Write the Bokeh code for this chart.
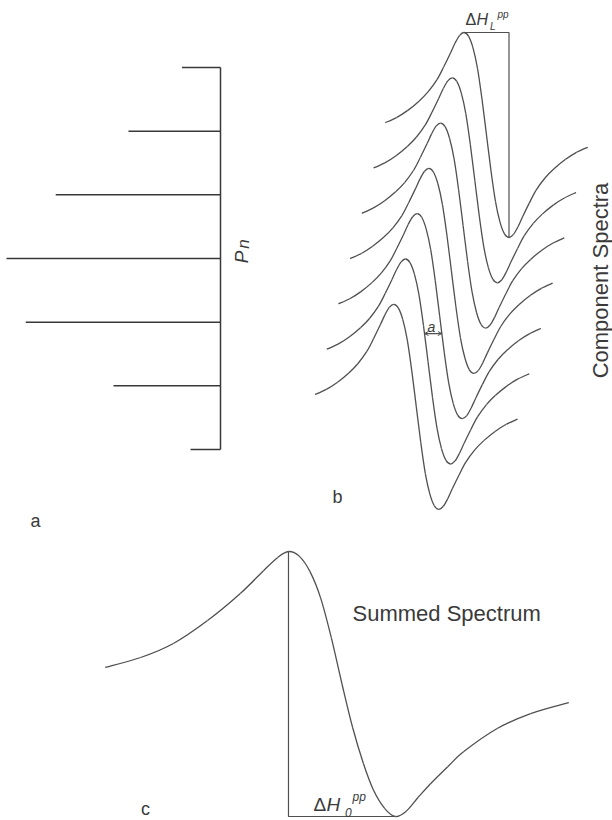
import numpy as np
from bokeh.plotting import figure
from bokeh.models import Range1d, Label, Arrow, OpenHead
from bokeh.embed import file_html
from bokeh.resources import INLINE

W, H = 612, 820

# ---------------- data ----------------
# panel a: stick distribution P_n (top to bottom)
n_index = [0, 1, 2, 3, 4, 5, 6]
p_n = [0.18, 0.43, 0.77, 1.00, 0.91, 0.50, 0.14]

# panel b: one component line shape (field in G, normalised derivative signal)
comp_field = [-22.5, -20, -17.5, -15, -13, -11, -9.5, -8, -7, -6, -5, -4, -3, -2, -1, 0,
              1, 2, 3, 4, 5, 6, 7, 8, 9.5, 11, 13, 15, 17.5, 20, 22.5]
comp_signal = [0.12, 0.17, 0.24, 0.33, 0.42, 0.54, 0.665, 0.80, 0.895, 0.97, 1.0, 0.965,
               0.85, 0.65, 0.35, 0.0, -0.35, -0.65, -0.85, -0.965, -1.0, -0.97, -0.895,
               -0.80, -0.665, -0.54, -0.42, -0.33, -0.24, -0.17, -0.12]
# position (G) and vertical stacking offset of each component, top to bottom
comp_centers = [7.8, 5.2, 2.6, 0.0, -2.6, -5.2, -7.8]
comp_offsets = [1.326, 0.884, 0.442, 0.0, -0.442, -0.884, -1.326]

# panel c: summed spectrum (field in G, normalised signal)
sum_field = [-35.4, -30.1, -25.2, -20.1, -15.2, -11.7, -9.6, -8.0, -6.4, -4.8, -3.2, -1.6, 0.0,
             1.6, 3.2, 4.7, 6.4, 8.0, 9.6, 11.4, 13.2, 15.8, 18.2, 23.2, 28.2, 33.9]
sum_signal = [0.125, 0.20, 0.306, 0.479, 0.683, 0.857, 0.955, 1.0, 0.965, 0.85, 0.65, 0.35, 0.0,
              -0.33, -0.60, -0.80, -0.94, -1.0, -0.96, -0.855, -0.755, -0.625, -0.51, -0.336,
              -0.223, -0.14]

# ---------------- helpers ----------------
def lin_range(v0, p0, v1, p1, total, flip=False):
    k = (v1 - v0) / (p1 - p0)
    at0 = v0 + k * (0 - p0)
    atT = v0 + k * (total - p0)
    if flip:
        return Range1d(start=atT, end=at0)
    return Range1d(start=at0, end=atT)

def smooth_segments(x, y):
    """Catmull-Rom through the read points, expressed as cubic Bezier pieces."""
    x = np.asarray(x, float)
    y = np.asarray(y, float)
    xp = np.concatenate([[x[0]], x, [x[-1]]])
    yp = np.concatenate([[y[0]], y, [y[-1]]])
    n = len(x) - 1
    d = dict(x0=[], y0=[], x1=[], y1=[], cx0=[], cy0=[], cx1=[], cy1=[])
    for i in range(n):
        a, b, c, e = i, i + 1, i + 2, i + 3
        d["x0"].append(xp[b]); d["y0"].append(yp[b])
        d["x1"].append(xp[c]); d["y1"].append(yp[c])
        d["cx0"].append(xp[b] + (xp[c] - xp[a]) / 6.0)
        d["cy0"].append(yp[b] + (yp[c] - yp[a]) / 6.0)
        d["cx1"].append(xp[c] - (xp[e] - xp[b]) / 6.0)
        d["cy1"].append(yp[c] - (yp[e] - yp[b]) / 6.0)
    return d

LINE = "#505050"
TEXT = "#3a3a3a"
FONT = "Liberation Sans"

p = figure(width=W, height=H, x_range=Range1d(0, W), y_range=Range1d(H, 0),
           output_backend="svg", toolbar_location=None, min_border=0,
           x_axis_location=None, y_axis_location=None)
p.grid.visible = False
p.outline_line_color = None
p.background_fill_color = "white"
p.border_fill_color = "white"

p.extra_x_ranges = {
    "ax": lin_range(0.0, 220, 1.0, 6, W),
    "bx": lin_range(0.0, 450.9, 10.0, 495.9, W),
    "cx": lin_range(0.0, 341.5, 10.0, 408.4, W),
}
p.extra_y_ranges = {
    "ay": lin_range(0.0, 67, 6.0, 449, H, flip=True),
    "by": lin_range(0.0, 270.4, 1.0, 167.9, H, flip=True),
    "cy": lin_range(0.0, 683.5, 1.0, 551.0, H, flip=True),
}

# ---------------- panel a ----------------
p.segment(x0=[0.0] * len(n_index), y0=n_index, x1=p_n, y1=n_index,
          line_color="#383838", line_width=1.5, x_range_name="ax", y_range_name="ay")
p.segment(x0=[0.0], y0=[n_index[0]], x1=[0.0], y1=[n_index[-1]],
          line_color="#383838", line_width=1.5, x_range_name="ax", y_range_name="ay")

# ---------------- panel b ----------------
cf = np.array(comp_field)
cs = np.array(comp_signal)
for c, o in zip(comp_centers, comp_offsets):
    seg = smooth_segments(cf + c, cs + o)
    p.bezier(line_color=LINE, line_width=1.3, x_range_name="bx", y_range_name="by", **seg)

i_pk = int(np.argmax(cs))
i_tr = int(np.argmin(cs))
x_pk = cf[i_pk] + comp_centers[0]
y_pk = cs[i_pk] + comp_offsets[0]
x_tr = cf[i_tr] + comp_centers[0]
y_tr = cs[i_tr] + comp_offsets[0]
p.line(x=[x_pk, x_tr, x_tr], y=[y_pk, y_pk, y_tr], line_color=LINE, line_width=1.2,
       x_range_name="bx", y_range_name="by")

# spacing marker "a" between two neighbouring components on their falling flanks
f_desc = cf[i_pk:i_tr + 1][::-1]
s_desc = cs[i_pk:i_tr + 1][::-1]
level = -0.611
def cross(k):
    return float(np.interp(level - comp_offsets[k], s_desc, f_desc) + comp_centers[k])
p.add_layout(Arrow(x_start=cross(5), y_start=level, x_end=cross(4), y_end=level,
                   start=OpenHead(size=4, line_width=1, line_color=LINE),
                   end=OpenHead(size=4, line_width=1, line_color=LINE),
                   line_color=LINE, line_width=1.2,
                   x_range_name="bx", y_range_name="by"))

# ---------------- panel c ----------------
sf = np.array(sum_field)
ss = np.array(sum_signal)
p.bezier(line_color=LINE, line_width=1.3, x_range_name="cx", y_range_name="cy",
         **smooth_segments(sf, ss))
j_pk = int(np.argmax(ss))
j_tr = int(np.argmin(ss))
p.line(x=[sf[j_pk], sf[j_pk], sf[j_tr]], y=[ss[j_pk], ss[j_tr], ss[j_tr]],
       line_color=LINE, line_width=1.2, x_range_name="cx", y_range_name="cy")

# ---------------- texts ----------------
def lab(x, y, t, size, style="normal", align="left", base="middle", angle=0.0):
    p.add_layout(Label(x=x, y=y, text=t, text_font=FONT, text_font_size=f"{size}px",
                       text_font_style=style, text_color=TEXT, text_align=align,
                       text_baseline=base, angle=angle))

lab(35, 520, "a", 18, align="center")
lab(337, 496, "b", 18, align="center")
lab(145, 808, "c", 18, align="center")

lab(240.5, 256.5, "P", 19, style="italic", align="center", angle=np.pi / 2)
lab(243.0, 243.5, "n", 17, style="italic", align="center", angle=np.pi / 2)

lab(600, 280, "Component Spectra", 22, align="center", angle=np.pi / 2)
lab(352, 613, "Summed Spectrum", 22, align="left")

lab(465, 19, "\u0394", 16)
lab(476, 19, "H", 16, style="italic")
lab(489.5, 25.5, "L", 10, style="italic")
lab(497, 13.5, "pp", 10, style="italic")

lab(431, 326, "a", 14, style="italic", align="center")

lab(313, 804, "\u0394", 19)
lab(326, 804, "H", 19, style="italic")
lab(344.5, 812, "0", 12, style="italic")
lab(352, 796, "pp", 12, style="italic")

open("out.html", "w").write(file_html(p, INLINE))
